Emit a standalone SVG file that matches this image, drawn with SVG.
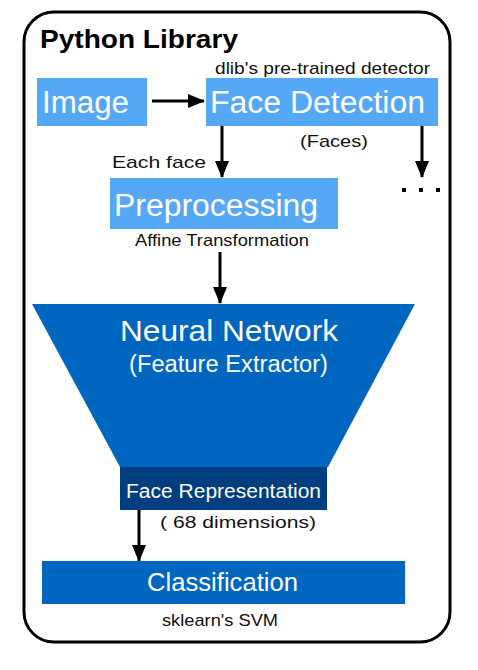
<svg xmlns="http://www.w3.org/2000/svg" width="478" height="670" viewBox="0 0 478 670">
<defs>
<marker id="ah" markerWidth="17" markerHeight="14" refX="16" refY="7" orient="auto" markerUnits="userSpaceOnUse" viewBox="0 0 17 14">
<path d="M0,0 L17,7 L0,14 Z" fill="#000"/>
</marker>
<style>
text{font-family:"Liberation Sans",Arial,sans-serif;}
.w{fill:#fff;}
.k{fill:#111;font-size:17px;}
.c{stroke:#000;stroke-width:3;fill:none;}
.light{fill:#55a8f5;}
</style>
</defs>
<rect width="478" height="670" fill="#fff"/>
<g id="frame">
<rect x="24" y="12" width="426" height="630" rx="30" ry="30" fill="#fff" stroke="#000" stroke-width="3"/>
<text x="40" y="48" font-size="25" font-weight="bold" fill="#000" textLength="198" lengthAdjust="spacingAndGlyphs">Python Library</text>
</g>
<g id="connectors">
<line class="c" x1="152" y1="101" x2="204" y2="101" marker-end="url(#ah)"/>
<line class="c" x1="222" y1="126" x2="222" y2="177" marker-end="url(#ah)"/>
<line class="c" x1="422" y1="126" x2="422" y2="177" marker-end="url(#ah)"/>
<line class="c" x1="220" y1="252" x2="220" y2="303" marker-end="url(#ah)"/>
<line class="c" x1="139" y1="510" x2="139" y2="561" marker-end="url(#ah)"/>
</g>
<g id="image">
<rect class="light" x="37" y="78" width="110" height="48"/>
<text class="w" x="42" y="113" font-size="31" textLength="87" lengthAdjust="spacingAndGlyphs">Image</text>
</g>
<g id="face-detection">
<text class="k" x="215" y="74" textLength="215" lengthAdjust="spacingAndGlyphs">dlib's pre-trained detector</text>
<rect class="light" x="206" y="78" width="232" height="48"/>
<text class="w" x="210" y="113" font-size="31" textLength="215" lengthAdjust="spacingAndGlyphs">Face Detection</text>
<text class="k" x="300" y="147" textLength="68" lengthAdjust="spacingAndGlyphs">(Faces)</text>
</g>
<g id="each-face">
<text class="k" x="112" y="168" font-size="18" textLength="94" lengthAdjust="spacingAndGlyphs">Each face</text>
</g>
<g id="more">
<rect x="402" y="188" width="4" height="4" fill="#000"/>
<rect x="419" y="188" width="4" height="4" fill="#000"/>
<rect x="436" y="188" width="4" height="4" fill="#000"/>
</g>
<g id="preprocessing">
<rect class="light" x="110" y="178" width="228" height="51"/>
<text class="w" x="114" y="216" font-size="31" textLength="204" lengthAdjust="spacingAndGlyphs">Preprocessing</text>
<text class="k" x="135" y="246" textLength="174" lengthAdjust="spacingAndGlyphs">Affine Transformation</text>
</g>
<g id="neural-network">
<polygon points="32,304 415,304 328,467 120,467" fill="#0066c0"/>
<text class="w" x="120" y="341" font-size="30" textLength="218" lengthAdjust="spacingAndGlyphs">Neural Network</text>
<text class="w" x="129" y="372" font-size="23" textLength="199" lengthAdjust="spacingAndGlyphs">(Feature Extractor)</text>
</g>
<g id="face-representation">
<rect x="120" y="467" width="207" height="43" fill="#003e80"/>
<text class="w" x="126" y="498" font-size="20" textLength="195" lengthAdjust="spacingAndGlyphs">Face Representation</text>
<text class="k" x="160" y="528" font-size="19" textLength="156" lengthAdjust="spacingAndGlyphs">( 68 dimensions)</text>
</g>
<g id="classification">
<rect x="42" y="561" width="363" height="43" fill="#0066c0"/>
<text class="w" x="147" y="591" font-size="25" textLength="151" lengthAdjust="spacingAndGlyphs">Classification</text>
<text class="k" x="162" y="626" textLength="116" lengthAdjust="spacingAndGlyphs">sklearn's SVM</text>
</g>
</svg>
